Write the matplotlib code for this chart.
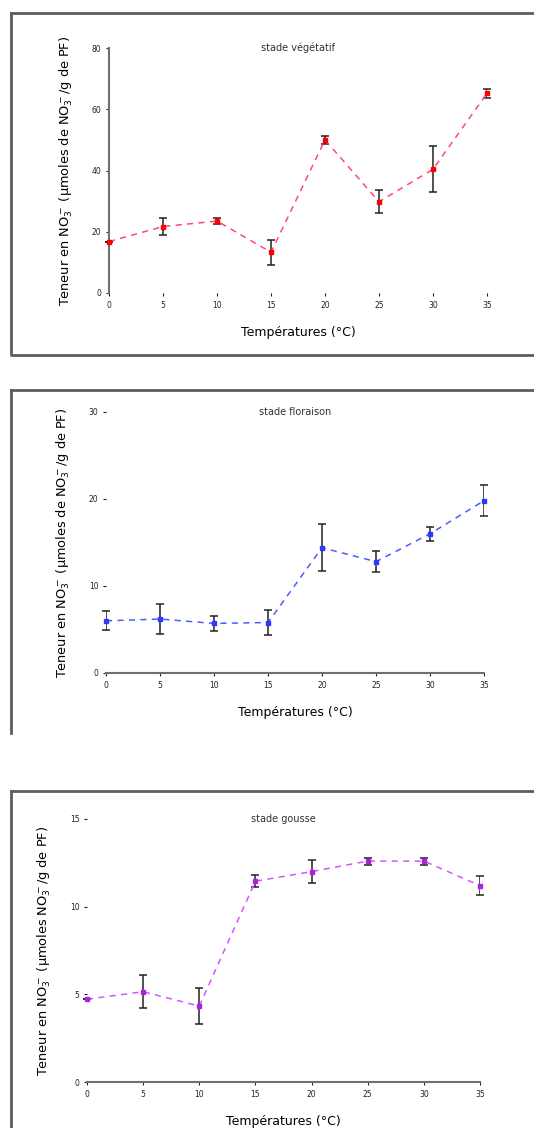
import numpy as np
import matplotlib.pyplot as plt
from matplotlib.lines import Line2D

W, H = 534, 1128

temperatures = [0, 5, 10, 15, 20, 25, 30, 35]
temp_labels = ['0', '5', '10', '15', '20', '25', '30', '35']

# stade végétatif
veg_values = [16.8, 21.7, 23.5, 13.3, 50.0, 29.8, 40.4, 65.2]
veg_errors = [0.0, 2.8, 1.0, 4.0, 1.3, 3.8, 7.5, 1.5]

# stade floraison
flo_values = [6.0, 6.2, 5.7, 5.8, 14.4, 12.8, 16.0, 19.8]
flo_errors = [1.1, 1.7, 0.9, 1.4, 2.7, 1.2, 0.8, 1.8]

# stade gousse
gou_values = [4.72, 5.15, 4.33, 11.45, 12.0, 12.6, 12.6, 11.2]
gou_errors = [0.0, 0.95, 1.03, 0.35, 0.64, 0.2, 0.2, 0.55]

fig = plt.figure(figsize=(W / 100, H / 100), dpi=100)
frame_col = '#56605f'


def px_axes(l, t, r, b):
    return fig.add_axes([l / W, 1 - b / H, (r - l) / W, (b - t) / H])


def fig_line(xs, ys):
    fig.add_artist(Line2D([x / W for x in xs], [1 - y / H for y in ys],
                          color=frame_col, lw=2, transform=fig.transFigure))


def draw_panel(ax, values, errors, ymax, yticks, title, ylabel, col, mcol,
               show_yspine, show_xspine):
    ax.errorbar(temperatures, values, yerr=errors, fmt='none', ecolor='#222222',
                elinewidth=1.1, capsize=3, capthick=1.1, zorder=2)
    ax.plot(temperatures, values, color=col, lw=1.1, dashes=(4, 3.5), zorder=3)
    ax.plot(temperatures, values, ls='none', marker='s', ms=3.5, color=mcol, zorder=4)
    ax.set_xlim(0, 35)
    ax.set_ylim(0, ymax)
    ax.set_xticks(temperatures)
    ax.set_xticklabels(temp_labels)
    ax.set_yticks(yticks)
    ax.tick_params(labelsize=5.5, length=2, colors='#222222', width=0.8)
    for s in ['top', 'right']:
        ax.spines[s].set_visible(False)
    ax.spines['left'].set_visible(show_yspine)
    ax.spines['bottom'].set_visible(show_xspine)
    ax.spines['left'].set_color('#6a7372')
    ax.spines['bottom'].set_color('#6a7372')
    ax.spines['left'].set_linewidth(1.5)
    ax.spines['bottom'].set_linewidth(1.5)
    ax.patch.set_alpha(0)
    for line in ax.get_lines():
        line.set_clip_on(False)
    ax.text(0.5, 1.0, title, transform=ax.transAxes, ha='center', va='center',
            fontsize=7, color='#333333')
    ax.set_xlabel('Températures (°C)', fontsize=9, labelpad=12)
    ax.set_ylabel(ylabel, fontsize=9.3, labelpad=12)


# panel 1
fig_line([11, 11, 540], [13, 355, 355])
fig_line([11, 540], [13, 13])
ax1 = px_axes(109, 48, 487, 293)
draw_panel(ax1, veg_values, veg_errors, 80, [0, 20, 40, 60, 80], 'stade végétatif',
           'Teneur en NO$_3^-$ (µmoles de NO$_3^-$/g de PF)', '#ff4a6e', '#ff0000',
           True, False)

# panel 2
fig_line([11, 540], [390, 390])
fig_line([11, 11], [390, 733])
ax2 = px_axes(106, 412, 484, 673)
draw_panel(ax2, flo_values, flo_errors, 30, [0, 10, 20, 30], 'stade floraison',
           'Teneur en NO$_3^-$ (µmoles de NO$_3^-$/g de PF)', '#4a5cff', '#2a3aff',
           False, True)

# panel 3
fig_line([11, 540], [791, 791])
fig_line([11, 11], [791, 1130])
ax3 = px_axes(87, 819, 480, 1082)
draw_panel(ax3, gou_values, gou_errors, 15, [0, 5, 10, 15], 'stade gousse',
           'Teneur en NO$_3^-$ (µmoles NO$_3^-$/g de PF)', '#d455ff', '#b020e0',
           False, True)

fig.savefig('out.png', dpi=100)
